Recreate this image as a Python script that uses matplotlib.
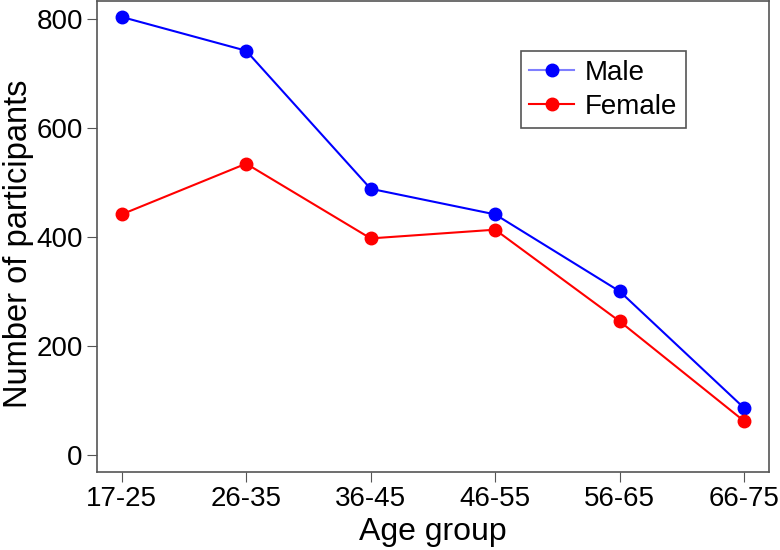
import matplotlib
matplotlib.use("Agg")
import matplotlib.pyplot as plt

plt.rcParams['font.family'] = ['Liberation Sans', 'DejaVu Sans']

age_groups = ['17-25', '26-35', '36-45', '46-55', '56-65', '66-75']
male = [803, 741, 488, 441, 300, 86]
female = [441, 534, 397, 413, 245, 62]

fig = plt.figure(figsize=(7.8, 5.5), dpi=100)
ax = fig.add_axes([0.124, 0.142, 0.862, 0.857])

x = range(len(age_groups))
ax.plot(x, male, color='blue', linewidth=1.5, marker='o', markersize=9, label='Male')
ax.plot(x, female, color='red', linewidth=1.5, marker='o', markersize=9, label='Female')

ax.set_xlim(-0.2, 5.2)
ax.set_ylim(-31, 833)
ax.set_xticks(list(x))
ax.set_xticklabels(age_groups)
ax.set_yticks([0, 200, 400, 600, 800])

ax.tick_params(axis='both', labelsize=20, direction='out', length=7, color='#555555', pad=3)
for s in ax.spines.values():
    s.set_color('#555555')
    s.set_linewidth(1.2)

ax.set_xlabel('Age group', fontsize=23, labelpad=4)
ax.set_ylabel('Number of participants', fontsize=23.5)
ax.yaxis.set_label_coords(-0.094, 0.483)

leg = ax.legend(loc='upper right', bbox_to_anchor=(0.876, 0.892), fontsize=20,
                fancybox=False, framealpha=1, edgecolor='#555555',
                handlelength=1.6, handletextpad=0.4, borderpad=0.3,
                borderaxespad=0, labelspacing=0.3)
leg.get_frame().set_linewidth(1.2)
# the Male key line is drawn lighter in the original
leg.get_lines()[0].set_color('#7f7fff')
leg.get_lines()[0].set_markerfacecolor('blue')
leg.get_lines()[0].set_markeredgecolor('blue')

fig.savefig('out.png', dpi=100)
